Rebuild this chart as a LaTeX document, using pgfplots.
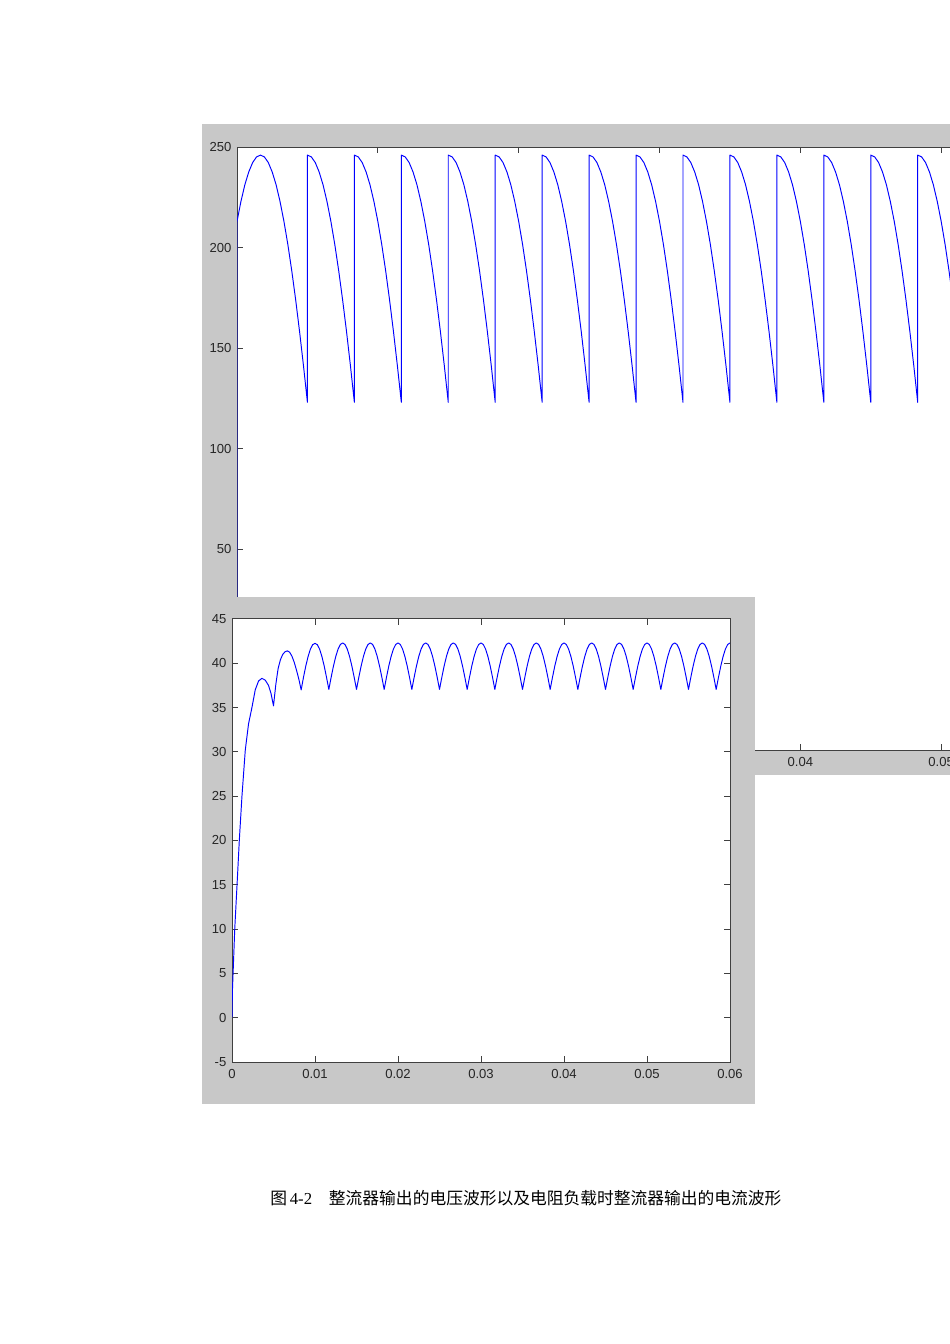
\documentclass[border=0pt]{standalone}
\usepackage{fontspec}
\setmainfont{Liberation Sans}
\newfontfamily\cjk{Noto Sans CJK SC}
\newfontfamily\tnr{Liberation Serif}
\usepackage{pgfplots}
\pgfplotsset{compat=1.18}
\definecolor{figgray}{RGB}{200,200,200}
\definecolor{mblue}{RGB}{0,0,255}
\pgfplotsset{
  matlab/.style={
    scale only axis,
    axis line style={black!75, line width=0.6pt},
    tick style={black!75, line width=0.6pt},
    tick align=inside,
    tick pos=both,
    major tick length=3.8pt,
    scaled x ticks=false, scaled y ticks=false,
    tick label style={font=\fontsize{8.2}{9}\selectfont, text=black!85},
    xticklabel style={yshift=-1pt},
    axis background/.style={fill=white},
  },
  sig/.style={mblue, line width=0.6pt, line join=round, mark=none},
}
\begin{document}
\begin{tikzpicture}[x=0.6266pt,y=0.6266pt]
\useasboundingbox (0,0) rectangle (950,1344);
\clip (0,0) rectangle (950,1344);
\fill[white] (0,0) rectangle (950,1344);
\coordinate (TA) at (237,594);
\coordinate (BA) at (232,282);
% ---- top figure (rectifier voltage)
\fill[figgray] (202,569) rectangle (970,1220);
\begin{axis}[matlab,
  at={(TA)}, anchor=south west,
  width=529.5pt, height=377.8pt,
  xmin=0, xmax=0.06, ymin=-50, ymax=250,
  xtick={0,0.01,0.02,0.03,0.04,0.05,0.06},
  xticklabels={0,0.01,0.02,0.03,0.04,0.05,0.06},
  ytick={-50,0,50,100,150,200,250},
  yticklabels={-50,0,50,100,150,200,250},
]
\addplot[sig] coordinates {
(0,0) (0,213.0) (0.000278,222.9) (0.000556,231.2) (0.000833,237.6) (0.001111,242.3) (0.001389,245.1) (0.001667,246) (0.001944,245.1) (0.002222,242.3) (0.0025,237.6) (0.002778,231.2) (0.003056,222.9) (0.003333,213.0) (0.003611,201.5) (0.003889,188.4) (0.004167,173.9) (0.004444,158.1) (0.004722,141.1) (0.005,123.0)
(0.005,246) (0.005278,245.1) (0.005556,242.3) (0.005833,237.6) (0.006111,231.2) (0.006389,222.9) (0.006667,213.0) (0.006944,201.5) (0.007222,188.4) (0.0075,173.9) (0.007778,158.1) (0.008056,141.1) (0.008333,123.0)
(0.008333,246) (0.008611,245.1) (0.008889,242.3) (0.009167,237.6) (0.009444,231.2) (0.009722,222.9) (0.01,213.0) (0.010278,201.5) (0.010556,188.4) (0.010833,173.9) (0.011111,158.1) (0.011389,141.1) (0.011667,123.0)
(0.011667,246) (0.011944,245.1) (0.012222,242.3) (0.0125,237.6) (0.012778,231.2) (0.013056,222.9) (0.013333,213.0) (0.013611,201.5) (0.013889,188.4) (0.014167,173.9) (0.014444,158.1) (0.014722,141.1) (0.015,123.0)
(0.015,246) (0.015278,245.1) (0.015556,242.3) (0.015833,237.6) (0.016111,231.2) (0.016389,222.9) (0.016667,213.0) (0.016944,201.5) (0.017222,188.4) (0.0175,173.9) (0.017778,158.1) (0.018056,141.1) (0.018333,123.0)
(0.018333,246) (0.018611,245.1) (0.018889,242.3) (0.019167,237.6) (0.019444,231.2) (0.019722,222.9) (0.02,213.0) (0.020278,201.5) (0.020556,188.4) (0.020833,173.9) (0.021111,158.1) (0.021389,141.1) (0.021667,123.0)
(0.021667,246) (0.021944,245.1) (0.022222,242.3) (0.0225,237.6) (0.022778,231.2) (0.023056,222.9) (0.023333,213.0) (0.023611,201.5) (0.023889,188.4) (0.024167,173.9) (0.024444,158.1) (0.024722,141.1) (0.025,123.0)
(0.025,246) (0.025278,245.1) (0.025556,242.3) (0.025833,237.6) (0.026111,231.2) (0.026389,222.9) (0.026667,213.0) (0.026944,201.5) (0.027222,188.4) (0.0275,173.9) (0.027778,158.1) (0.028056,141.1) (0.028333,123.0)
(0.028333,246) (0.028611,245.1) (0.028889,242.3) (0.029167,237.6) (0.029444,231.2) (0.029722,222.9) (0.03,213.0) (0.030278,201.5) (0.030556,188.4) (0.030833,173.9) (0.031111,158.1) (0.031389,141.1) (0.031667,123.0)
(0.031667,246) (0.031944,245.1) (0.032222,242.3) (0.0325,237.6) (0.032778,231.2) (0.033056,222.9) (0.033333,213.0) (0.033611,201.5) (0.033889,188.4) (0.034167,173.9) (0.034444,158.1) (0.034722,141.1) (0.035,123.0)
(0.035,246) (0.035278,245.1) (0.035556,242.3) (0.035833,237.6) (0.036111,231.2) (0.036389,222.9) (0.036667,213.0) (0.036944,201.5) (0.037222,188.4) (0.0375,173.9) (0.037778,158.1) (0.038056,141.1) (0.038333,123.0)
(0.038333,246) (0.038611,245.1) (0.038889,242.3) (0.039167,237.6) (0.039444,231.2) (0.039722,222.9) (0.04,213.0) (0.040278,201.5) (0.040556,188.4) (0.040833,173.9) (0.041111,158.1) (0.041389,141.1) (0.041667,123.0)
(0.041667,246) (0.041944,245.1) (0.042222,242.3) (0.0425,237.6) (0.042778,231.2) (0.043056,222.9) (0.043333,213.0) (0.043611,201.5) (0.043889,188.4) (0.044167,173.9) (0.044444,158.1) (0.044722,141.1) (0.045,123.0)
(0.045,246) (0.045278,245.1) (0.045556,242.3) (0.045833,237.6) (0.046111,231.2) (0.046389,222.9) (0.046667,213.0) (0.046944,201.5) (0.047222,188.4) (0.0475,173.9) (0.047778,158.1) (0.048056,141.1) (0.048333,123.0)
(0.048333,246) (0.048611,245.1) (0.048889,242.3) (0.049167,237.6) (0.049444,231.2) (0.049722,222.9) (0.05,213.0) (0.050278,201.5) (0.050556,188.4) (0.050833,173.9) (0.051111,158.1) (0.051389,141.1) (0.051667,123.0)
(0.051667,246) (0.051944,245.1) (0.052222,242.3) (0.0525,237.6) (0.052778,231.2) (0.053056,222.9) (0.053333,213.0) (0.053611,201.5) (0.053889,188.4) (0.054167,173.9) (0.054444,158.1) (0.054722,141.1) (0.055,123.0)
};
\end{axis}
% ---- bottom figure (load current)
\fill[figgray] (202,240) rectangle (755,747);
\begin{axis}[matlab,
  at={(BA)}, anchor=south west,
  width=312.05pt, height=277.6pt,
  xmin=0, xmax=0.06, ymin=-5, ymax=45,
  xtick={0,0.01,0.02,0.03,0.04,0.05,0.06},
  xticklabels={0,0.01,0.02,0.03,0.04,0.05,0.06},
  ytick={-5,0,5,10,15,20,25,30,35,40,45},
  yticklabels={-5,0,5,10,15,20,25,30,35,40,45},
]
\addplot[sig] coordinates {
(0,0) (0.00005,3.0) (0.00033,10.0) (0.00068,16.3) (0.00088,20.0) (0.0012,25.0) (0.0016,30.2) (0.002,33.2) (0.0024,35.0) (0.0028,37.0) (0.0032,38.0) (0.0036,38.3) (0.004,38.1) (0.0044,37.5) (0.0047,36.6) (0.005,35.2)
(0.005278,37.6) (0.005556,39.4) (0.005833,40.4) (0.006111,41.0) (0.006389,41.3) (0.006667,41.4) (0.006944,41.25) (0.007222,40.8) (0.0075,40.1) (0.007778,39.2) (0.008056,38.2) (0.008333,37.0)
(0.008611,38.41) (0.008889,39.68) (0.009167,40.76) (0.009444,41.6) (0.009722,42.1) (0.01,42.25) (0.010278,42.1) (0.010556,41.6) (0.010833,40.76) (0.011111,39.68) (0.011389,38.41) (0.011667,37.05)
(0.011944,38.41) (0.012222,39.68) (0.0125,40.76) (0.012778,41.6) (0.013056,42.12) (0.013333,42.3) (0.013611,42.12) (0.013889,41.6) (0.014167,40.76) (0.014444,39.68) (0.014722,38.41) (0.015,37.05)
(0.015278,38.41) (0.015556,39.68) (0.015833,40.76) (0.016111,41.6) (0.016389,42.12) (0.016667,42.3) (0.016944,42.12) (0.017222,41.6) (0.0175,40.76) (0.017778,39.68) (0.018056,38.41) (0.018333,37.05)
(0.018611,38.41) (0.018889,39.68) (0.019167,40.76) (0.019444,41.6) (0.019722,42.12) (0.02,42.3) (0.020278,42.12) (0.020556,41.6) (0.020833,40.76) (0.021111,39.68) (0.021389,38.41) (0.021667,37.05)
(0.021944,38.41) (0.022222,39.68) (0.0225,40.76) (0.022778,41.6) (0.023056,42.12) (0.023333,42.3) (0.023611,42.12) (0.023889,41.6) (0.024167,40.76) (0.024444,39.68) (0.024722,38.41) (0.025,37.05)
(0.025278,38.41) (0.025556,39.68) (0.025833,40.76) (0.026111,41.6) (0.026389,42.12) (0.026667,42.3) (0.026944,42.12) (0.027222,41.6) (0.0275,40.76) (0.027778,39.68) (0.028056,38.41) (0.028333,37.05)
(0.028611,38.41) (0.028889,39.68) (0.029167,40.76) (0.029444,41.6) (0.029722,42.12) (0.03,42.3) (0.030278,42.12) (0.030556,41.6) (0.030833,40.76) (0.031111,39.68) (0.031389,38.41) (0.031667,37.05)
(0.031944,38.41) (0.032222,39.68) (0.0325,40.76) (0.032778,41.6) (0.033056,42.12) (0.033333,42.3) (0.033611,42.12) (0.033889,41.6) (0.034167,40.76) (0.034444,39.68) (0.034722,38.41) (0.035,37.05)
(0.035278,38.41) (0.035556,39.68) (0.035833,40.76) (0.036111,41.6) (0.036389,42.12) (0.036667,42.3) (0.036944,42.12) (0.037222,41.6) (0.0375,40.76) (0.037778,39.68) (0.038056,38.41) (0.038333,37.05)
(0.038611,38.41) (0.038889,39.68) (0.039167,40.76) (0.039444,41.6) (0.039722,42.12) (0.04,42.3) (0.040278,42.12) (0.040556,41.6) (0.040833,40.76) (0.041111,39.68) (0.041389,38.41) (0.041667,37.05)
(0.041944,38.41) (0.042222,39.68) (0.0425,40.76) (0.042778,41.6) (0.043056,42.12) (0.043333,42.3) (0.043611,42.12) (0.043889,41.6) (0.044167,40.76) (0.044444,39.68) (0.044722,38.41) (0.045,37.05)
(0.045278,38.41) (0.045556,39.68) (0.045833,40.76) (0.046111,41.6) (0.046389,42.12) (0.046667,42.3) (0.046944,42.12) (0.047222,41.6) (0.0475,40.76) (0.047778,39.68) (0.048056,38.41) (0.048333,37.05)
(0.048611,38.41) (0.048889,39.68) (0.049167,40.76) (0.049444,41.6) (0.049722,42.12) (0.05,42.3) (0.050278,42.12) (0.050556,41.6) (0.050833,40.76) (0.051111,39.68) (0.051389,38.41) (0.051667,37.05)
(0.051944,38.41) (0.052222,39.68) (0.0525,40.76) (0.052778,41.6) (0.053056,42.12) (0.053333,42.3) (0.053611,42.12) (0.053889,41.6) (0.054167,40.76) (0.054444,39.68) (0.054722,38.41) (0.055,37.05)
(0.055278,38.41) (0.055556,39.68) (0.055833,40.76) (0.056111,41.6) (0.056389,42.12) (0.056667,42.3) (0.056944,42.12) (0.057222,41.6) (0.0575,40.76) (0.057778,39.68) (0.058056,38.41) (0.058333,37.05)
(0.058611,38.41) (0.058889,39.68) (0.059167,40.76) (0.059444,41.6) (0.059722,42.12) (0.06,42.3)
};
\end{axis}
% ---- caption
\node[anchor=west, inner sep=0pt, font=\fontsize{10.5}{12}\selectfont] at (270,146)
  {{\cjk 图}\,{\tnr 4-2}\hspace{1em}{\cjk 整流器输出的电压波形以及电阻负载时整流器输出的电流波形}};
\end{tikzpicture}
\end{document}
